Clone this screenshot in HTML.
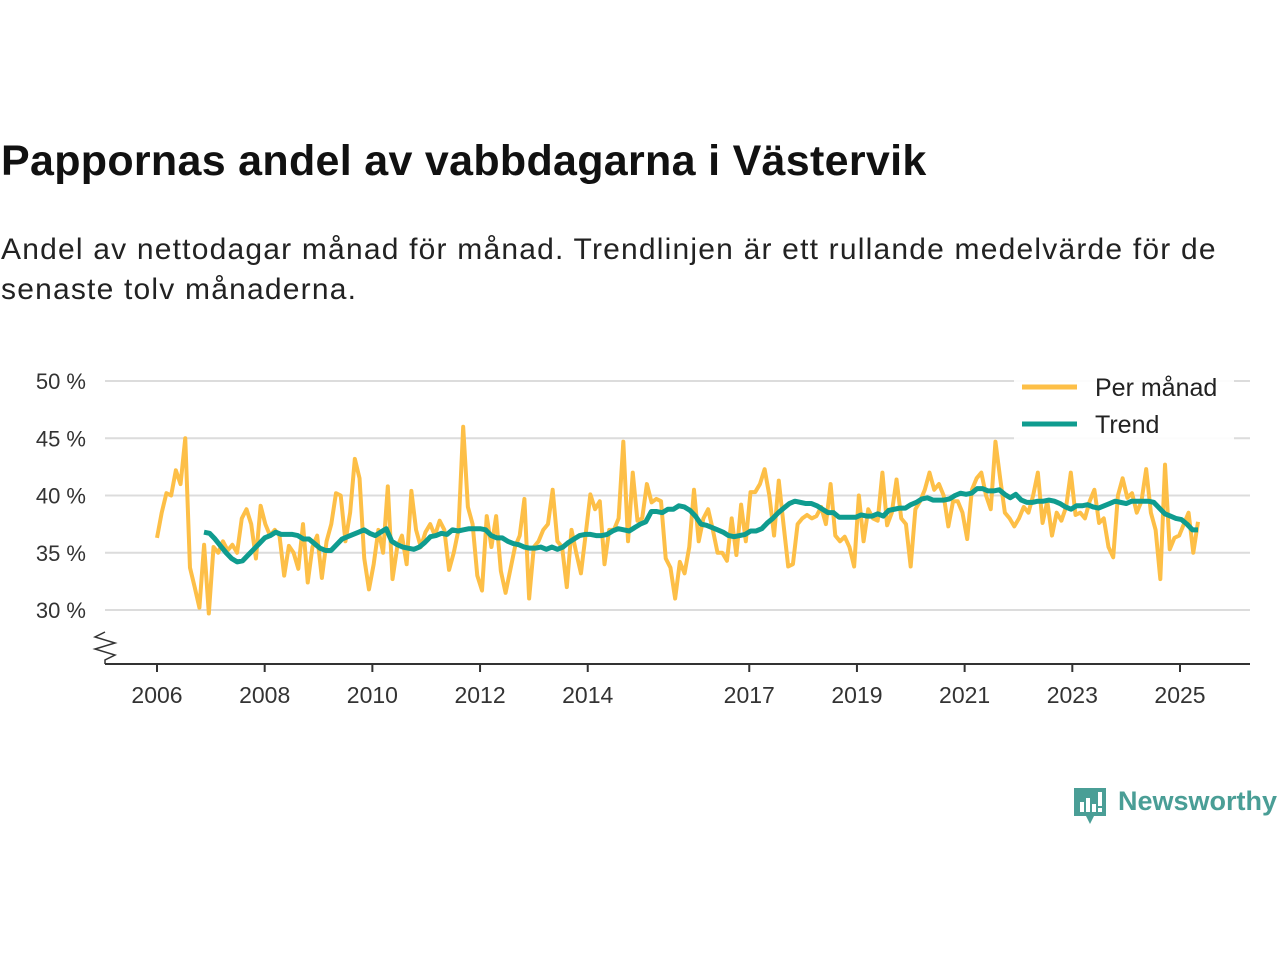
<!DOCTYPE html>
<html><head><meta charset="utf-8"><style>
body{margin:0;width:1280px;height:960px;background:#fff;font-family:"Liberation Sans","DejaVu Sans",sans-serif;overflow:hidden;position:relative}
h1{position:absolute;left:1px;top:137px;margin:0;font-size:43px;font-weight:bold;color:#111;letter-spacing:0.3px}
.sub{position:absolute;left:1px;top:230px;margin:0;font-size:30px;line-height:40px;color:#222;width:1240px;letter-spacing:1.2px}
svg{position:absolute;left:0;top:0}
</style></head><body>
<h1>Pappornas andel av vabbdagarna i Västervik</h1>
<p class="sub">Andel av nettodagar månad för månad. Trendlinjen är ett rullande medelvärde för de senaste tolv månaderna.</p>
<svg id="chart" width="1280" height="960"></svg>
<div style="position:absolute;left:1072px;top:786px;">
<svg width="36" height="42" style="position:static"><path d="M2 2h32v28H22l-4 8-4-8H2z" fill="#4a9e96"/><rect x="8" y="16" width="4" height="10" fill="#fff"/><rect x="14" y="12" width="4" height="14" fill="#fff"/><rect x="20" y="18" width="4" height="8" fill="#fff"/><rect x="26" y="6" width="4" height="14" fill="#fff"/><rect x="26" y="22" width="4" height="4" fill="#fff"/></svg>
<span style="position:absolute;left:46px;top:0px;font-size:27px;font-weight:bold;color:#4a9e96;white-space:nowrap">Newsworthy</span></div>
<script>
const perMonth=[36.3,38.5,40.2,40,42.2,41,45,33.7,32,30.2,35.7,29.7,35.5,35,36,35.2,35.7,35,38,38.8,37.5,34.5,39.1,37.5,36.5,37,36.5,33,35.6,35,33.6,37.5,32.4,35.5,36.5,32.8,36,37.5,40.2,40,36,38.5,43.2,41.5,34.5,31.8,34,37,35,40.8,32.7,35.5,36.5,34,40.4,37,35.5,36.8,37.5,36.5,37.8,37,33.5,35,37,46,39,37.5,33,31.7,38.2,35.5,38.2,33.4,31.5,33.5,35.5,36.5,39.7,31,35.5,36,37,37.5,40.5,36,35.5,32,37,35,33.2,36.6,40.1,38.8,39.5,34,37,37,38,44.7,36,42,37.8,38,41,39.4,39.7,39.5,34.5,33.7,31,34.2,33.2,35.5,40.5,36,38,38.8,37,35,35,34.3,38,34.8,39.2,36,40.3,40.3,41,42.3,40,36.5,41.3,37.5,33.8,34,37.5,38,38.3,38,38.2,39,37.5,41,36.5,36,36.4,35.5,33.8,40,36,38.8,38,37.8,42,37.4,38.5,41.4,38,37.5,33.8,38.8,39.5,40.5,42,40.5,41,40,37.3,39.5,39.5,38.5,36.2,40.5,41.5,42,40,38.8,44.7,41.5,38.5,38,37.3,38,39,38.5,40,42,37.6,39.5,36.5,38.5,37.8,39,42,38.3,38.5,38,39.5,40.5,37.6,38,35.5,34.6,40,41.5,39.8,40.2,38.5,39.5,42.3,38.5,37,32.7,42.7,35.3,36.3,36.5,37.5,38.5,35,37.7];
const trend=[36.8,36.7,36.2,35.6,35,34.5,34.2,34.3,34.8,35.3,35.8,36.3,36.5,36.8,36.6,36.6,36.6,36.5,36.2,36.2,35.8,35.4,35.2,35.2,35.7,36.2,36.4,36.6,36.8,37,36.7,36.5,36.8,37.1,36,35.7,35.5,35.4,35.3,35.5,35.9,36.4,36.5,36.7,36.6,37,36.9,37,37.1,37.1,37.1,37,36.5,36.3,36.3,36.0,35.8,35.7,35.5,35.4,35.4,35.5,35.3,35.5,35.3,35.5,35.9,36.2,36.5,36.6,36.6,36.5,36.5,36.6,36.9,37.1,37.0,36.9,37.2,37.5,37.7,38.6,38.6,38.5,38.8,38.8,39.1,39,38.7,38.2,37.5,37.4,37.2,37,36.8,36.5,36.4,36.5,36.6,36.9,36.9,37.1,37.6,38,38.5,38.9,39.3,39.5,39.4,39.3,39.3,39.1,38.8,38.5,38.5,38.1,38.1,38.1,38.1,38.3,38.2,38.2,38.4,38.2,38.7,38.8,38.9,38.9,39.2,39.4,39.7,39.8,39.6,39.6,39.6,39.7,40,40.2,40.1,40.2,40.6,40.6,40.4,40.4,40.5,40.1,39.8,40.1,39.6,39.4,39.4,39.5,39.5,39.6,39.5,39.3,39,38.8,39.1,39.1,39.2,39.0,38.9,39.1,39.3,39.5,39.4,39.3,39.5,39.5,39.5,39.5,39.4,38.9,38.4,38.2,38.0,37.9,37.5,37.0,37.0];
const yTicks=[30,35,40,45,50];
const yLabels=["30 %","35 %","40 %","45 %","50 %"];
const xYears=[2006,2008,2010,2012,2014,2017,2019,2021,2023,2025];
const NS="http://www.w3.org/2000/svg";
const svg=document.getElementById('chart');
const N=perMonth.length;
const xm=i=>157+i*(1198-157)/(N-1);
const xt=j=>204+j*(1198-204)/(trend.length-1);
const xy=yr=>157+(yr-2006)*(1180-157)/19;
const y=v=>610-(v-30)*(610-381)/20;
function mk(t,a){const e=document.createElementNS(NS,t);for(const k in a)e.setAttribute(k,a[k]);svg.appendChild(e);return e;}
yTicks.forEach((t,i)=>{
 const g=mk('line',{x1:105,x2:1250,y1:y(t),y2:y(t),stroke:'#dcdcdc','stroke-width':2});
 
 
 const tx=mk('text',{x:86,y:y(t)+8,'text-anchor':'end','font-size':22,fill:'#333','font-family':'Liberation Sans, sans-serif'});
 tx.textContent=yLabels[i];
 
 
});
const ax=mk('line',{x1:105,x2:1250,y1:664,y2:664,stroke:'#333','stroke-width':2});


const br=mk('path',{d:'M105 632 L95 637 L115 643 L95 649 L115 655 L105 660 L105 664',fill:'none',stroke:'#333','stroke-width':1.5});


xYears.forEach(yr=>{
 const x=xy(yr);
 const tk=mk('line',{x1:x,x2:x,y1:664,y2:672,stroke:'#333','stroke-width':2});
 
 
 const tx=mk('text',{x:x,y:703,'text-anchor':'middle','font-size':23,fill:'#333','font-family':'Liberation Sans, sans-serif'});
 tx.textContent=yr;
 
 
});
const p1=mk('polyline',{points:perMonth.map((v,i)=>xm(i)+','+y(v)).join(' '),fill:'none',stroke:'#fdbf47','stroke-width':4,'stroke-linejoin':'round'});


const p2=mk('polyline',{points:trend.map((v,j)=>xt(j)+','+y(v)).join(' '),fill:'none',stroke:'#0f9c8f','stroke-width':5,'stroke-linejoin':'round'});


const lb=mk('rect',{x:1014,y:368,width:220,height:72,fill:'#fff',opacity:0.9});


[['Per månad','#fdbf47',387],['Trend','#0f9c8f',424]].forEach(([n,c,yy])=>{
 const l=mk('line',{x1:1022,x2:1077,y1:yy,y2:yy,stroke:c,'stroke-width':5});
 
 
 const t=mk('text',{x:1095,y:yy+9,'font-size':25,fill:'#222','font-family':'Liberation Sans, sans-serif'});
 t.textContent=n;
 
 
});
</script>
</body></html>
